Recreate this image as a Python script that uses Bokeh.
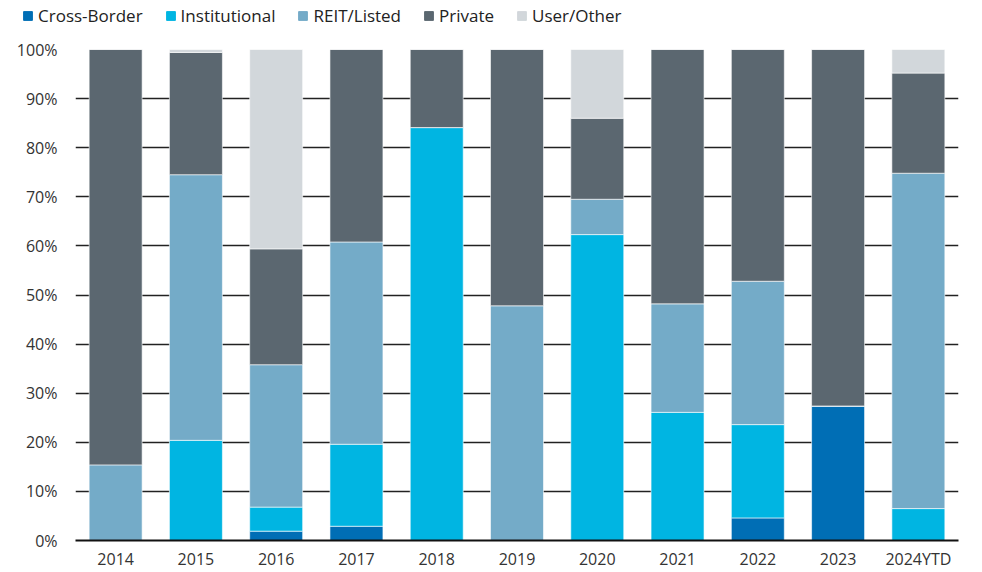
from bokeh.plotting import figure
from bokeh.layouts import column, row
from bokeh.models import ColumnDataSource, FactorRange, Legend, LegendItem, NumeralTickFormatter, FixedTicker
from bokeh.embed import file_html
from bokeh.resources import INLINE

years = ["2014", "2015", "2016", "2017", "2018", "2019", "2020", "2021", "2022", "2023", "2024YTD"]
series = ["Cross-Border", "Institutional", "REIT/Listed", "Private", "User/Other"]
cross_border  = [0.0, 0.0, 1.9, 2.9, 0.0, 0.0, 0.0, 0.0, 4.6, 27.4, 0.0]
institutional = [0.0, 20.4, 4.9, 16.7, 84.1, 0.0, 62.3, 26.1, 19.0, 0.0, 6.5]
reit_listed   = [15.4, 54.1, 29.0, 41.2, 0.0, 47.8, 7.2, 22.1, 29.2, 0.0, 68.3]
private       = [84.6, 24.9, 23.6, 39.2, 15.9, 52.2, 16.5, 51.8, 47.2, 72.6, 20.4]
user_other    = [0.0, 0.6, 40.6, 0.0, 0.0, 0.0, 14.0, 0.0, 0.0, 0.0, 4.8]
colors = ["#006eb5", "#00b5e2", "#74abc8", "#5b6770", "#d2d7db"]

data = {"year": years}
for name, vals in zip(series, [cross_border, institutional, reit_listed, private, user_other]):
    data[name] = [v / 100.0 for v in vals]
src = ColumnDataSource(data)

# ---- legend strip ----
leg = figure(width=982, height=32, x_range=(0, 1), y_range=(0, 1),
             x_axis_type=None, y_axis_type=None, output_backend="svg", toolbar_location=None,
             min_border=0, min_border_left=0, min_border_right=0, min_border_top=0, min_border_bottom=0)
leg.outline_line_color = None
leg.grid.visible = False
leg_src = ColumnDataSource({"x": [-5.0], "top": [-5.0]})
leg_renderers = [leg.vbar(x="x", top="top", width=0.5, color=c, source=leg_src) for c in colors]
items = [LegendItem(label=n, renderers=[r]) for n, r in zip(series, leg_renderers)]
legend = Legend(items=items, orientation="horizontal", location=(22, 5),
                glyph_width=11, glyph_height=11, label_text_font="Open Sans",
                label_text_font_size="17px", label_text_color="#222222",
                spacing=22, padding=0, margin=0, label_standoff=5,
                border_line_color=None, background_fill_alpha=0)
leg.add_layout(legend, "center")

# ---- main chart ----
p = figure(x_range=FactorRange(*years, range_padding=0.0), y_range=(0, 1),
           width=982, height=540, output_backend="svg", toolbar_location=None,
           min_border_left=75, min_border_right=24, min_border_top=17, min_border_bottom=30)

rs = p.vbar_stack(series, x="year", width=0.66, source=src, color=colors,
                  line_color="white", line_width=0.6)

p.outline_line_color = None
p.background_fill_color = "white"
p.xgrid.grid_line_color = None
p.ygrid.grid_line_color = "#222222"
p.ygrid.grid_line_width = 1.6
p.ygrid.level = "underlay"

p.yaxis.ticker = FixedTicker(ticks=[i / 10 for i in range(11)])
p.yaxis.formatter = NumeralTickFormatter(format="0%")
p.yaxis.axis_line_color = None
p.yaxis.major_tick_line_color = None
p.yaxis.major_tick_out = 0
p.yaxis.major_tick_in = 0
p.yaxis.minor_tick_line_color = None
p.yaxis.major_label_standoff = 18
p.yaxis.major_label_text_font = "Open Sans"
p.yaxis.major_label_text_font_size = "16px"
p.yaxis.major_label_text_color = "#333333"

p.xaxis.axis_line_color = "#111111"
p.xaxis.axis_line_width = 2
p.xaxis.major_tick_line_color = None
p.xaxis.major_tick_out = 0
p.xaxis.major_tick_in = 0
p.xaxis.minor_tick_line_color = None
p.xaxis.major_label_standoff = 7
p.xaxis.major_label_text_font = "Open Sans"
p.xaxis.major_label_text_font_size = "16px"
p.xaxis.major_label_text_color = "#333333"

layout = column(row(leg), p, spacing=0)
open("out.html", "w").write(file_html(layout, INLINE))
